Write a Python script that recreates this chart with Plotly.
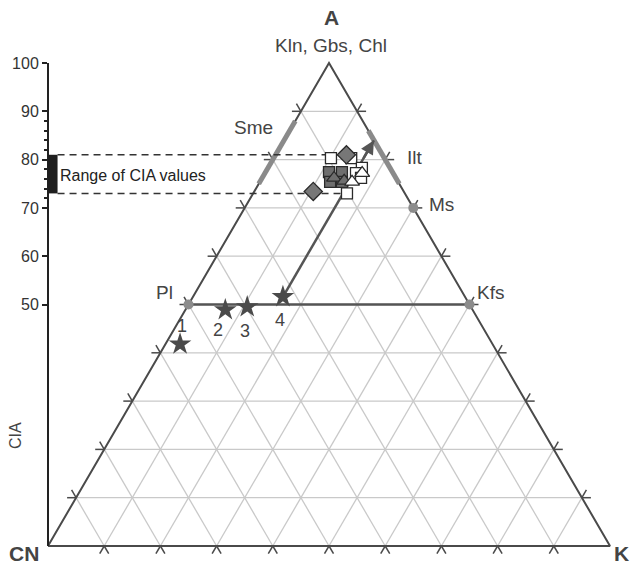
import plotly.graph_objects as go
import numpy as np

# ---------------- data (ternary A-CN-K, values in %) ----------------
grid_steps = [10, 20, 30, 40, 50, 60, 70, 80, 90]
cia_ticks = [50, 60, 70, 80, 90, 100]

# mineral end-members (A, K)
minerals = ["Pl", "Kfs", "Ms"]
mineral_A = [50, 50, 70]
mineral_K = [0, 50, 30]

# clay mineral ranges along edges (A from, A to)
sme_A = [75, 88]      # on A-CN edge (K = 0)
ilt_A = [75, 86]      # on A-K edge (CN = 0)

# fresh rocks (stars)
star_labels = ["1", "2", "3", "4"]
star_A = [41.8, 48.9, 49.5, 51.6]
star_K = [2.6, 7.1, 10.7, 16.0]

# weathering trend arrow (A from, A to) at constant K
trend_A = [51.6, 84.0]
trend_K = 16.0

# samples
gsq_A = [77.4, 77.4, 75.4, 75.4]
gsq_K = [11.3, 13.6, 12.5, 14.6]
wsq_A = [80.3, 80.3, 78.3, 77.2, 73.0, 76.2]
wsq_K = [10.2, 13.8, 16.7, 16.2, 16.7, 17.6]
gtri_A = [76.2, 75.6]
gtri_K = [12.8, 14.9]
wtri_A = [77.2, 75.4]
wtri_K = [17.3, 16.4]
gdia_A = [81.0, 73.4]
gdia_K = [12.6, 10.5]


def tern(A, K):
    A = np.asarray(A, dtype=float)
    K = np.asarray(K, dtype=float)
    return K + A / 2.0, A


# ---------------- layout constants ----------------
W, H = 632, 569
X0PX, X1PX = 48, 610        # CN and K vertices (px)
YBOT, YTOP = 546, 63        # A=0 and A=100 (px)
sx = (X1PX - X0PX) / 100.0
sy = (YBOT - YTOP) / 100.0
xr = [-X0PX / sx, (W - X0PX) / sx]
yr = [-(H - YBOT) / sy, YBOT / sy]

EDGE = "#4a4a4a"
GRID = "#c9c9c9"
TXT = "#444444"

fig = go.Figure()

# grid lines
gx, gy = [], []
tx, ty = [], []
e = 1.6
for v in grid_steps:
    segs = [
        ((v, 0), (v, 100 - v)),            # const A
        ((0, v), (100 - v, v)),            # const K
        ((0, 100 - v), (100 - v, 0)),      # const CN
    ]
    for (a0, k0), (a1, k1) in segs:
        x, y = tern([a0, a1], [k0, k1])
        gx += list(x) + [None]
        gy += list(y) + [None]
    ticks = [
        ((v, 0), (v, -e)),
        ((v, 100 - v), (v, 100 - v + e)),
        ((0, v), (-e, v)),
        ((100 - v, v), (100 - v + e, v)),
        ((0, 100 - v), (-e, 100 - v + e)),
        ((100 - v, 0), (100 - v + e, -e)),
    ]
    for (a0, k0), (a1, k1) in ticks:
        x, y = tern([a0, a1], [k0, k1])
        tx += list(x) + [None]
        ty += list(y) + [None]

fig.add_trace(go.Scatter(x=gx, y=gy, mode="lines",
                         line=dict(color=GRID, width=1.3), hoverinfo="skip"))
fig.add_trace(go.Scatter(x=tx, y=ty, mode="lines",
                         line=dict(color=EDGE, width=1.5), hoverinfo="skip"))

# triangle outline
ox, oy = tern([0, 0, 100, 0], [0, 100, 0, 0])
fig.add_trace(go.Scatter(x=ox, y=oy, mode="lines",
                         line=dict(color=EDGE, width=2), hoverinfo="skip"))

# Sme and Ilt ranges
x, y = tern(sme_A, [0, 0])
fig.add_trace(go.Scatter(x=x, y=y, mode="lines", line=dict(color="#8a8a8a", width=5)))
x, y = tern(ilt_A, [100 - a for a in ilt_A])
fig.add_trace(go.Scatter(x=x, y=y, mode="lines", line=dict(color="#8a8a8a", width=5)))

# Pl-Kfs tie line
x, y = tern([mineral_A[0], mineral_A[1]], [mineral_K[0], mineral_K[1]])
fig.add_trace(go.Scatter(x=x, y=y, mode="lines", line=dict(color="#555555", width=2.5)))

# weathering trend line
x, y = tern(trend_A, [trend_K, trend_K])
fig.add_trace(go.Scatter(x=x, y=y, mode="lines", line=dict(color="#555555", width=2.5)))

# CIA range
all_A = gsq_A + wsq_A + gtri_A + wtri_A + gdia_A
all_K = gsq_K + wsq_K + gtri_K + wtri_K + gdia_K
cia_min, cia_max = min(all_A), max(all_A)
i_max = all_A.index(cia_max)
i_min = all_A.index(cia_min)
xmax, _ = tern([cia_max], [all_K[i_max]])
xmin, _ = tern([cia_min], [all_K[i_min]])
bar_w = 1.7
fig.add_trace(go.Scatter(x=[bar_w, float(xmax[0])], y=[cia_max, cia_max], mode="lines",
                         line=dict(color="#333333", width=1.5, dash="7px,5px")))
fig.add_trace(go.Scatter(x=[bar_w, float(xmin[0])], y=[cia_min, cia_min], mode="lines",
                         line=dict(color="#333333", width=1.5, dash="7px,5px")))
fig.add_shape(type="rect", xref="x", yref="y", x0=0, x1=bar_w, y0=cia_min, y1=cia_max,
              fillcolor="#1e1e1e", line=dict(width=0))

# mineral points
x, y = tern(mineral_A, mineral_K)
fig.add_trace(go.Scatter(x=x, y=y, mode="markers",
                         marker=dict(color="#8c8c8c", size=10, line=dict(width=0))))

# stars
x, y = tern(star_A, star_K)
fig.add_trace(go.Scatter(x=x, y=y, mode="markers",
                         marker=dict(symbol="star", color="#4a4a4a", size=17, line=dict(width=0))))

OUT = dict(color="#2a2a2a", width=1.3)
for A, K, sym, col, sz in [
    (gsq_A, gsq_K, "square", "#6e6e6e", 11),
    (gtri_A, gtri_K, "triangle-up", "#6e6e6e", 13),
    (wsq_A, wsq_K, "square", "white", 11),
    (wtri_A, wtri_K, "triangle-up", "white", 13),
    (gdia_A, gdia_K, "diamond", "#777777", 14),
]:
    x, y = tern(A, K)
    fig.add_trace(go.Scatter(x=x, y=y, mode="markers",
                             marker=dict(symbol=sym, color=col, size=sz, line=OUT)))

# arrow head
hx, hy = tern([trend_A[1]], [trend_K])
tx0, ty0 = tern([trend_A[1] - 4], [trend_K])
fig.add_annotation(x=float(hx[0]), y=float(hy[0]), ax=float(tx0[0]), ay=float(ty0[0]),
                   xref="x", yref="y", axref="x", ayref="y", text="",
                   showarrow=True, arrowhead=2, arrowsize=1.1, arrowwidth=2.5,
                   arrowcolor="#555555")

# dummy trace for the CIA axis
fig.add_trace(go.Scatter(x=[None], y=[None], xaxis="x", yaxis="y2"))


def ann(text, px, py, size=19, bold=False, color=TXT, xanchor="center", **kw):
    fig.add_annotation(x=px / W, y=1 - py / H, xref="paper", yref="paper",
                       text=("<b>%s</b>" % text) if bold else text, showarrow=False,
                       xanchor=xanchor, yanchor="middle",
                       font=dict(size=size, color=color), **kw)


ann("A", 331, 18, size=21, bold=True)
ann("Kln, Gbs, Chl", 331, 46, size=19)
ann("CN", 24, 553, size=21, bold=True)
ann("K", 621, 553, size=21, bold=True)
ann("Sme", 253, 127, size=19)
ann("Ilt", 415, 157, size=19)
ann("Ms", 441, 205, size=19)
ann("Kfs", 490, 293, size=19)
ann("Pl", 164, 293, size=19)
ann("CIA", 15, 436, size=16, textangle=-90)
ann("Range of CIA values", 58, 175, size=16, color="#222222", xanchor="left")

# star labels
for lab, (dx, dy) in zip(star_labels, [(2, 18), (-7, -20), (-2, -24), (-3, -23)]):
    i = star_labels.index(lab)
    x, y = tern([star_A[i]], [star_K[i]])
    fig.add_annotation(x=float(x[0]), y=float(y[0]), xref="x", yref="y", text=lab,
                       showarrow=False, xshift=dx, yshift=dy, font=dict(size=18, color=TXT))

fig.update_layout(
    width=W, height=H, autosize=False,
    margin=dict(l=0, r=0, t=0, b=0, autoexpand=False),
    paper_bgcolor="white", plot_bgcolor="rgba(0,0,0,0)",
    showlegend=False,
    font=dict(family="Arial, Liberation Sans, sans-serif"),
    xaxis=dict(range=xr, visible=False, domain=[0, 1], fixedrange=True, automargin=False),
    yaxis=dict(range=yr, visible=False, domain=[0, 1], fixedrange=True, automargin=False),
    yaxis2=dict(range=[0, 100], domain=[(H - YBOT) / H, (H - YTOP) / H],
                anchor="free", position=X0PX / W, side="left", automargin=False,
                showline=True, linecolor="#222222", linewidth=2,
                showgrid=False, zeroline=False,
                tickmode="array", tickvals=cia_ticks,
                ticks="outside", ticklen=5, tickwidth=2, tickcolor="#222222",
                tickfont=dict(size=16, color="#333333"),
                minor=dict(tickmode="array",
                           tickvals=[72, 74, 76, 78, 82, 84, 86, 88],
                           ticks="outside", ticklen=3, tickwidth=2, tickcolor="#222222"),
                fixedrange=True),
)

fig.write_html("out.html", config={"displayModeBar": False},
               post_script="document.body.style.margin='0px';")
